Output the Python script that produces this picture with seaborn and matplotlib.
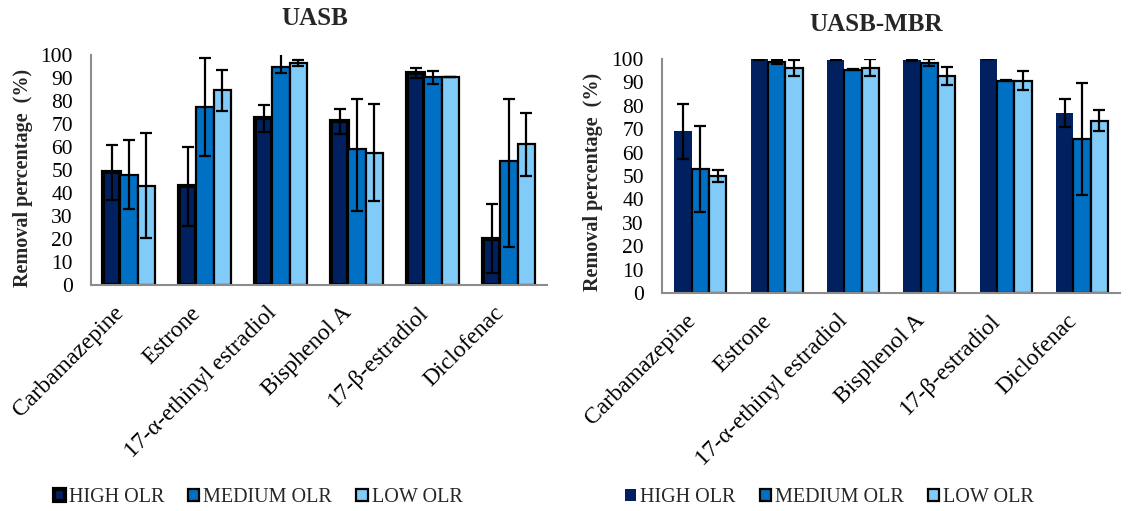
import pandas as pd
import numpy as np
import seaborn as sns
import matplotlib.pyplot as plt
import matplotlib.transforms as mtransforms
from matplotlib.patches import Patch

compounds = ["Carbamazepine", "Estrone", "17-α-ethinyl estradiol",
             "Bisphenol A", "17-β-estradiol", "Diclofenac"]
olr_levels = ["HIGH OLR", "MEDIUM OLR", "LOW OLR"]

# UASB (left) - mean removal and error bar extents (below / above)
uasb_high = [49.0, 43.2, 72.6, 71.4, 92.3, 20.2]
uasb_high_lo = [12.0, 17.4, 5.9, 5.6, 2.4, 15.1]
uasb_high_hi = [11.9, 16.9, 5.5, 5.0, 2.0, 15.0]
uasb_med = [47.8, 77.2, 94.6, 59.2, 90.4, 53.8]
uasb_med_lo = [14.8, 21.1, 2.3, 26.9, 2.8, 37.4]
uasb_med_hi = [15.2, 21.5, 8.0, 21.5, 2.8, 26.9]
uasb_low = [43.2, 84.8, 96.7, 57.5, 90.4, 61.2]
uasb_low_lo = [22.9, 9.0, 1.3, 21.0, 0.0, 13.8]
uasb_low_hi = [22.9, 8.8, 1.1, 21.1, 0.0, 13.7]

# UASB-MBR (right) - mean removal and symmetric error
mbr_high = [69.1, 99.8, 99.7, 99.6, 99.9, 76.9]
mbr_high_err = [11.8, 0.2, 0.2, 0.3, 0.1, 6.0]
mbr_med = [53.0, 98.7, 95.4, 98.5, 90.8, 65.8]
mbr_med_err = [18.4, 0.8, 0.3, 1.6, 0.2, 24.0]
mbr_low = [49.9, 96.1, 96.3, 92.8, 90.8, 73.7]
mbr_low_err = [2.5, 3.5, 3.7, 3.7, 4.0, 4.6]

colors = {"HIGH OLR": "#002060", "MEDIUM OLR": "#0070C4", "LOW OLR": "#80CBF7"}

sns.set_theme(style="white")
plt.rcParams['font.family'] = ['Liberation Serif', 'DejaVu Serif']

def long_df(high, med, low):
    rows = []
    for lvl, vals in zip(olr_levels, [high, med, low]):
        for c, v in zip(compounds, vals):
            rows.append({"compound": c, "olr": lvl, "removal": v})
    return pd.DataFrame(rows)

def draw(ax, df, lows, highs, edge_widths, label_y):
    sns.barplot(data=df, x="compound", y="removal", hue="olr", order=compounds,
                hue_order=olr_levels, palette=colors, width=0.68, errorbar=None,
                saturation=1, legend=False, ax=ax)
    for cont, lo, hi, lw in zip(ax.containers, lows, highs, edge_widths):
        xs, ys = [], []
        for bar in cont:
            if lw > 0:
                bar.set_edgecolor("black")
                bar.set_linewidth(lw)
            else:
                bar.set_linewidth(0)
            xs.append(bar.get_x() + bar.get_width() / 2)
            ys.append(bar.get_height())
        ax.errorbar(xs, ys, yerr=[lo, hi], fmt="none", ecolor="black",
                    elinewidth=1.6, capsize=4.5, capthick=1.6, zorder=5)
    ax.set_ylim(0, 100)
    ax.set_yticks(np.arange(0, 101, 10))
    ax.set_xlim(-0.5, len(compounds) - 0.5)
    for s in ["top", "right"]:
        ax.spines[s].set_visible(False)
    for s in ["left", "bottom"]:
        ax.spines[s].set_color("#8c8c8c")
        ax.spines[s].set_linewidth(1.5)
    ax.tick_params(axis="y", length=0, labelsize=15.5, colors="black", pad=13)
    ax.tick_params(axis="x", length=0, labelsize=17, colors="black", pad=18)
    shift = mtransforms.ScaledTranslation(-0.08, 0, ax.figure.dpi_scale_trans)
    for lab in ax.get_xticklabels():
        lab.set_rotation(45)
        lab.set_ha("right")
        lab.set_va("center")
        lab.set_rotation_mode("anchor")
        lab.set_transform(lab.get_transform() + shift)
    ax.set_xlabel("")
    ax.set_ylabel("Removal percentage  (%)", fontsize=14.5, fontweight="bold")
    ax.yaxis.set_label_coords(-0.128, label_y)

fig = plt.figure(figsize=(11.29, 5.11), dpi=100)
ax1 = fig.add_axes([0.0806, 0.4423, 0.404, 0.450])
ax2 = fig.add_axes([0.5864, 0.4266, 0.4057, 0.4579])

draw(ax1, long_df(uasb_high, uasb_med, uasb_low),
     [uasb_high_lo, uasb_med_lo, uasb_low_lo],
     [uasb_high_hi, uasb_med_hi, uasb_low_hi], [3.0, 1.6, 1.6], 0.465)
draw(ax2, long_df(mbr_high, mbr_med, mbr_low),
     [mbr_high_err, mbr_med_err, mbr_low_err],
     [mbr_high_err, mbr_med_err, mbr_low_err], [0, 1.6, 1.6], 0.474)

fig.text(0.279, 0.964, "UASB", ha="center", va="center", fontsize=18, fontweight="bold")
fig.text(0.776, 0.953, "UASB-MBR", ha="center", va="center", fontsize=18, fontweight="bold")

def legend_handles(edges):
    return [Patch(facecolor=colors[l], edgecolor="black" if e > 0 else colors[l],
                  linewidth=e, label=l) for l, e in zip(olr_levels, edges)]

leg_kw = dict(ncol=3, frameon=False, fontsize=14.5, handlelength=0.55, handleheight=0.55,
              handletextpad=0.2, columnspacing=1.2, loc="center")
fig.legend(handles=legend_handles([3.0, 1.6, 1.6]), bbox_to_anchor=(0.2285, 0.026), **leg_kw)
fig.legend(handles=legend_handles([0, 1.6, 1.6]), bbox_to_anchor=(0.735, 0.026), **leg_kw)

fig.savefig("out.png", dpi=100)
